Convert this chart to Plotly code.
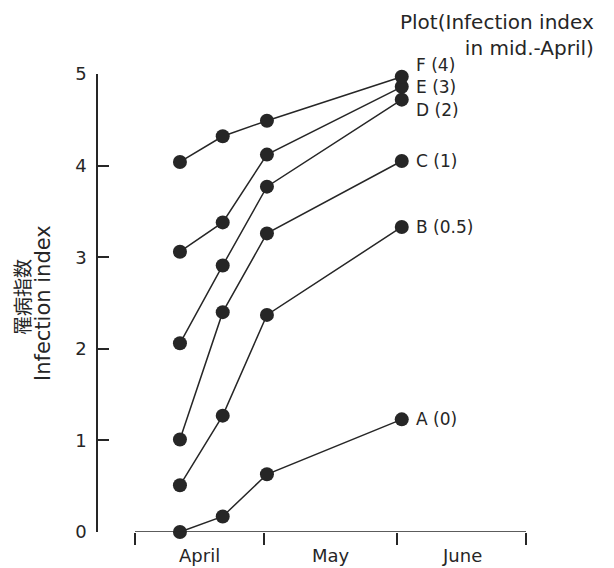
import plotly.graph_objects as go

# Survey dates (mid-April to early June)
dates = ["2001-04-11 11:00", "2001-04-21 10:00", "2001-05-01 17:00", "2001-06-02 02:00"]

# Month names shown under the time axis, centred on each month
months = ["April", "May", "June"]
month_mid = ["2001-04-16", "2001-05-16 12:00", "2001-06-16"]
month_edges = ["2001-04-01", "2001-05-01", "2001-06-01", "2001-07-01"]

# Plot labels with the infection index recorded in mid-April
plots = ["A (0)", "B (0.5)", "C (1)", "D (2)", "E (3)", "F (4)"]

# Infection index per plot at each survey date
plot_a = [0.0, 0.17, 0.63, 1.23]
plot_b = [0.51, 1.27, 2.37, 3.33]
plot_c = [1.01, 2.40, 3.26, 4.05]
plot_d = [2.06, 2.91, 3.77, 4.72]
plot_e = [3.06, 3.38, 4.12, 4.86]
plot_f = [4.04, 4.32, 4.49, 4.97]

series = [plot_a, plot_b, plot_c, plot_d, plot_e, plot_f]

# vertical nudges (px) so the crowded end labels stay readable
label_nudge = [0, 0, 0, -10, 0, 12]

INK = "#262626"
FONT = "DejaVu Sans"

fig = go.Figure()
for name, vals in zip(plots, series):
    fig.add_trace(go.Scatter(
        x=dates, y=vals, name=name, mode="lines+markers",
        line=dict(color=INK, width=1.5),
        marker=dict(color=INK, size=14),
        cliponaxis=False, showlegend=False,
    ))

annotations = []
for name, vals, dy in zip(plots, series, label_nudge):
    annotations.append(dict(
        x=dates[-1], y=vals[-1], xref="x", yref="y",
        text=name, showarrow=False, xanchor="left", yanchor="middle",
        xshift=13, yshift=dy, borderpad=0,
        font=dict(family=FONT, size=17, color=INK),
    ))

for m, mid in zip(months, month_mid):
    annotations.append(dict(
        x=mid, y=0, xref="x", yref="y", text=m, showarrow=False,
        xanchor="center", yanchor="middle", yshift=-23, borderpad=0,
        font=dict(family=FONT, size=18, color=INK),
    ))

# y-axis titles (Japanese and English), rotated
annotations.append(dict(
    x=0, y=0.5, xref="paper", yref="paper", text="罹病指数",
    textangle=-90, showarrow=False, xanchor="center", yanchor="middle",
    xshift=-77, yshift=6,
    font=dict(family="Noto Sans CJK JP", size=19, color=INK),
))
annotations.append(dict(
    x=0, y=0.5, xref="paper", yref="paper", text="Infection index",
    textangle=-90, showarrow=False, xanchor="center", yanchor="middle",
    xshift=-55, yshift=0,
    font=dict(family=FONT, size=21, color=INK),
))

# legend heading for the plot labels
annotations.append(dict(
    x=1, y=1, xref="paper", yref="paper",
    text="Plot(Infection index<br>in mid.-April)", align="right",
    showarrow=False, xanchor="right", yanchor="bottom",
    xshift=70, yshift=12,
    font=dict(family=FONT, size=20, color=INK),
))

fig.update_layout(
    width=614, height=568,
    margin=dict(l=98, r=88, t=74, b=36),
    paper_bgcolor="white", plot_bgcolor="white",
    annotations=annotations,
    shapes=[dict(
        type="line", xref="x", yref="y",
        x0=month_edges[0], x1=month_edges[-1], y0=0, y1=0,
        line=dict(color=INK, width=1.5),
    )],
    xaxis=dict(
        type="date", range=["2001-03-23 09:20", month_edges[-1]],
        tickvals=month_edges, showticklabels=False,
        ticks="outside", ticklen=12, tickwidth=1.5,
        tickcolor=INK, showline=False, showgrid=False, zeroline=False,
        automargin=False,
    ),
    yaxis=dict(
        range=[0, 5], tickvals=[0, 1, 2, 3, 4, 5],
        ticks="inside", ticklen=11, tickwidth=1.5, tickcolor=INK,
        showline=True, linecolor=INK, linewidth=1.5, automargin=False,
        showgrid=False, zeroline=False, ticklabelstandoff=6,
        tickfont=dict(family=FONT, size=18, color=INK),
    ),
)

fig.write_html("out.html")
